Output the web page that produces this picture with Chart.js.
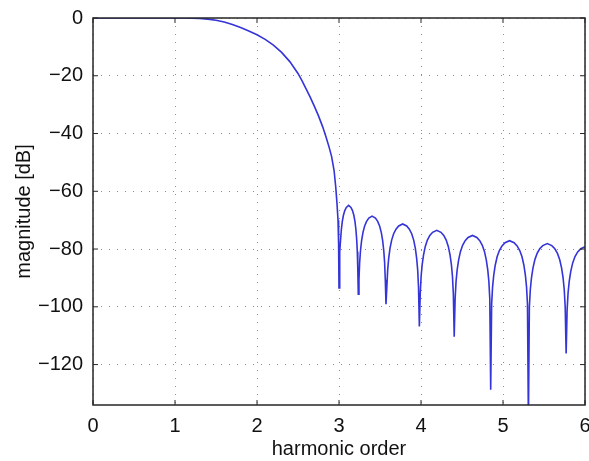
<!DOCTYPE html>
<html>
<head>
<meta charset="utf-8">
<script src="https://cdn.jsdelivr.net/npm/chart.js@4.4.1/dist/chart.umd.min.js"></script>
<style>
  html, body { margin: 0; padding: 0; background: #fff; }
  #wrap { width: 589px; height: 461px; position: relative; }
</style>
</head>
<body>
<div id="wrap"><canvas id="chart_magnitude"></canvas></div>
<script>
// values (main lobe, then the side lobes null to null)
var harmonicOrder = [
  0, 0.5, 1.0, 1.1, 1.2, 1.3, 1.4, 1.5, 1.6, 1.7, 1.8, 1.9, 2.0, 2.1, 2.2, 2.3, 2.4, 2.5, 2.55, 2.6,
  2.65, 2.7, 2.75, 2.8, 2.84, 2.88, 2.91, 2.94, 2.96, 2.975, 2.988, 2.995, 3.0,
  3.0059, 3.0118, 3.0188, 3.0282, 3.040, 3.054, 3.0705, 3.0893, 3.1175, 3.1457, 3.1645, 3.181, 3.195, 3.2068, 3.2162, 3.2233, 3.2291, 3.235,
  3.2435, 3.2519, 3.262, 3.2756, 3.2925, 3.3127, 3.3364, 3.3634, 3.404, 3.4446, 3.4716, 3.4953, 3.5155, 3.5324, 3.546, 3.5561, 3.5646, 3.573,
  3.5832, 3.5934, 3.6056, 3.6218, 3.6422, 3.6666, 3.6951, 3.7277, 3.7765, 3.8253, 3.8579, 3.8864, 3.9108, 3.9312, 3.9474, 3.9597, 3.9698, 3.98,
  3.9906, 4.0013, 4.014, 4.031, 4.0523, 4.0778, 4.1075, 4.1415, 4.1925, 4.2435, 4.2775, 4.3073, 4.3328, 4.354, 4.371, 4.3838, 4.3944, 4.405,
  4.4161, 4.4273, 4.4406, 4.4584, 4.4807, 4.5072, 4.5386, 4.5741, 4.6275, 4.6809, 4.7165, 4.7477, 4.7744, 4.7966, 4.8144, 4.8278, 4.8389, 4.85,
  4.8615, 4.873, 4.8868, 4.9052, 4.9282, 4.9558, 4.988, 5.0248, 5.08, 5.1352, 5.172, 5.2042, 5.2318, 5.2548, 5.2732, 5.287, 5.2985, 5.31,
  5.3215, 5.333, 5.3468, 5.3652, 5.3882, 5.4158, 5.448, 5.4848, 5.54, 5.5952, 5.632, 5.6642, 5.6918, 5.7148, 5.7332, 5.747, 5.7585, 5.77,
  5.7818, 5.7935, 5.8076, 5.8264, 5.8499, 5.878, 5.9109, 5.9486, 6.0
];
var magnitudeDb = [
  0, 0, 0, -0.02, -0.07, -0.18, -0.4, -0.8, -1.4, -2.25, -3.3, -4.5, -5.8, -7.4, -9.4, -11.9, -15.1, -19.2, -21.8, -24.6,
  -27.5, -30.6, -33.9, -37.6, -41.0, -44.8, -48.0, -52.8, -58.5, -64, -70, -78, -93.5,
  -86.9, -80.9, -76.9, -73.4, -70.5, -68.3, -66.7, -65.6, -64.9, -65.6, -66.7, -68.3, -70.5, -73.4, -76.9, -80.9, -86.9, -95.6,
  -90.6, -84.6, -80.6, -77.1, -74.2, -72.0, -70.4, -69.3, -68.6, -69.3, -70.4, -72.0, -74.2, -77.1, -80.6, -84.6, -90.6, -99.1,
  -93.3, -87.3, -83.3, -79.8, -76.9, -74.7, -73.1, -72.0, -71.3, -72.0, -73.1, -74.7, -76.9, -79.8, -83.3, -87.3, -93.3, -106.8,
  -95.5, -89.5, -85.5, -82.0, -79.1, -76.9, -75.3, -74.2, -73.5, -74.2, -75.3, -76.9, -79.1, -82.0, -85.5, -89.5, -95.5, -110.4,
  -97.3, -91.3, -87.3, -83.8, -80.9, -78.7, -77.1, -76.0, -75.3, -76.0, -77.1, -78.7, -80.9, -83.8, -87.3, -91.3, -97.3, -128.7,
  -99.1, -93.1, -89.1, -85.6, -82.7, -80.5, -78.9, -77.8, -77.1, -77.8, -78.9, -80.5, -82.7, -85.6, -89.1, -93.1, -99.1, -140,
  -100.1, -94.1, -90.1, -86.6, -83.7, -81.5, -79.9, -78.8, -78.1, -78.8, -79.9, -81.5, -83.7, -86.6, -90.1, -94.1, -100.1, -116.2,
  -101.2, -95.2, -91.2, -87.7, -84.8, -82.6, -81.0, -79.9, -79.2
];
var xTicks = [0, 1, 2, 3, 4, 5, 6];
var yTicks = [-120, -100, -80, -60, -40, -20, 0];

var axisFont = { family: "'Liberation Sans', Arial, Helvetica, sans-serif", size: 20 };

// MATLAB-like box with inward tick marks
var boxPlugin = {
  id: 'boxPlugin',
  afterDraw: function (chart) {
    var ctx = chart.ctx, a = chart.chartArea;
    var xs = chart.scales.x, ys = chart.scales.y;
    ctx.save();
    ctx.strokeStyle = '#262626';
    ctx.lineWidth = 1.5;
    ctx.strokeRect(a.left, a.top, a.right - a.left, a.bottom - a.top);
    ctx.lineWidth = 1;
    ctx.beginPath();
    xTicks.forEach(function (v) {
      var px = xs.getPixelForValue(v);
      ctx.moveTo(px, a.bottom); ctx.lineTo(px, a.bottom - 5);
      ctx.moveTo(px, a.top); ctx.lineTo(px, a.top + 5);
    });
    yTicks.forEach(function (v) {
      var py = ys.getPixelForValue(v);
      ctx.moveTo(a.left, py); ctx.lineTo(a.left + 5, py);
      ctx.moveTo(a.right, py); ctx.lineTo(a.right - 5, py);
    });
    ctx.stroke();
    ctx.restore();
  }
};

var chart_magnitude = new Chart(document.getElementById('chart_magnitude'), {
  type: 'line',
  data: {
    datasets: [{
      label: 'magnitude',
      data: harmonicOrder.map(function (x, i) { return { x: x, y: magnitudeDb[i] }; }),
      borderColor: '#3434d8',
      borderWidth: 1.6,
      pointRadius: 0,
      tension: 0,
      fill: false,
      clip: 0
    }]
  },
  options: {
    animation: false,
    responsive: true,
    maintainAspectRatio: false,
    layout: { padding: { top: 18, right: 4, left: 0, bottom: 0 } },
    plugins: {
      legend: { display: false },
      tooltip: { enabled: false }
    },
    scales: {
      x: {
        type: 'linear',
        min: 0,
        max: 6,
        afterBuildTicks: function (scale) {
          scale.ticks = xTicks.map(function (v) { return { value: v }; });
        },
        afterFit: function (scale) {
          scale.height = 56;
          scale.paddingLeft = 0;
          scale.paddingRight = 0;
        },
        grid: {
          color: 'rgba(0,0,0,0.45)',
          lineWidth: 1,
          drawTicks: false
        },
        border: { display: false, dash: [1, 7] },
        ticks: { color: '#111', font: axisFont, padding: 9, maxRotation: 0 },
        title: {
          display: true,
          text: 'harmonic order',
          color: '#111',
          font: axisFont,
          padding: { top: 0, bottom: 0 }
        }
      },
      y: {
        type: 'linear',
        min: -134,
        max: 0,
        afterBuildTicks: function (scale) {
          scale.ticks = yTicks.map(function (v) { return { value: v }; });
        },
        afterFit: function (scale) {
          scale.width = 93;
          scale.paddingTop = 0;
          scale.paddingBottom = 0;
        },
        grid: {
          color: 'rgba(0,0,0,0.45)',
          lineWidth: 1,
          drawTicks: false
        },
        border: { display: false, dash: [1, 7] },
        ticks: {
          color: '#111',
          font: axisFont,
          padding: 10,
          callback: function (v) { return String(v).replace('-', '\u2212'); }
        },
        title: {
          display: true,
          text: 'magnitude [dB]',
          color: '#111',
          font: axisFont,
          padding: { top: 12, bottom: 0 }
        }
      }
    }
  },
  plugins: [boxPlugin]
});
</script>
</body>
</html>
